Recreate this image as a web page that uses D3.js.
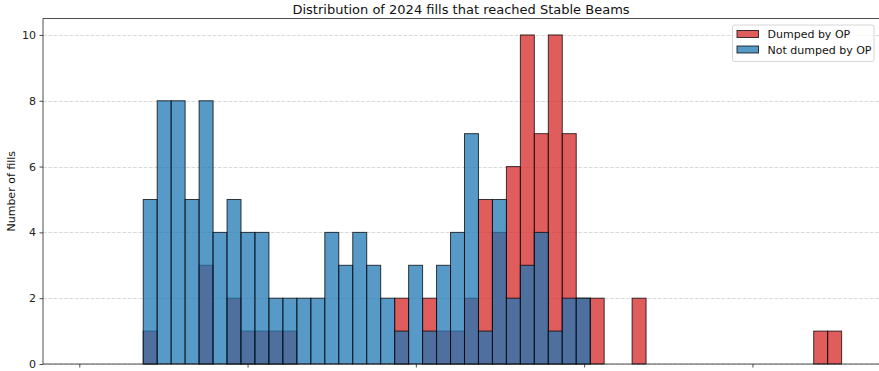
<!DOCTYPE html>
<html>
<head>
<meta charset="utf-8">
<script src="https://cdn.jsdelivr.net/npm/d3@7"></script>
<style>
  html, body { margin: 0; padding: 0; background: #fff; }
  svg { display: block; font-family: "DejaVu Sans", sans-serif; }
</style>
</head>
<body>
<svg id="chart" width="879" height="371"></svg>
<script>
// Histogram of fill durations (hours), 50 equal bins
const binStart = 1.9;
const binWidth = 0.415;
const dumpedByOP = [
  1, 0, 0, 0, 3, 0, 2, 1, 1, 1,
  1, 0, 0, 0, 0, 0, 0, 0, 2, 0,
  2, 1, 1, 2, 5, 4, 6, 10, 7, 10,
  7, 2, 2, 0, 0, 2, 0, 0, 0, 0,
  0, 0, 0, 0, 0, 0, 0, 0, 1, 1
];
const notDumpedByOP = [
  5, 8, 8, 5, 8, 4, 5, 4, 4, 2,
  2, 2, 2, 4, 3, 4, 3, 2, 1, 3,
  1, 3, 4, 7, 1, 5, 2, 3, 4, 1,
  2, 2, 0, 0, 0, 0, 0, 0, 0, 0,
  0, 0, 0, 0, 0, 0, 0, 0, 0, 0
];
const xTicks = [0, 5, 10, 15, 20];
const yTicks = [0, 2, 4, 6, 8, 10];
const seriesNames = ["Dumped by OP", "Not dumped by OP"];
const seriesColors = ["#d62728", "#1f77b4"];

const svg = d3.select("#chart");
const plotLeft = 43, plotTop = 18.5, plotBottom = 364, plotRight = 880;

const x = d3.scaleLinear().domain([-1.078, 23.79]).range([plotLeft, plotRight]);
const y = d3.scaleLinear().domain([0, 10.5]).range([plotBottom, plotTop]);

// horizontal dashed grid
svg.append("g").selectAll("line").data(yTicks).join("line")
  .attr("x1", plotLeft).attr("x2", plotRight)
  .attr("y1", d => Math.round(y(d)) + 0.5).attr("y2", d => Math.round(y(d)) + 0.5)
  .attr("stroke", "#b0b0b0").attr("stroke-opacity", 0.6)
  .attr("stroke-dasharray", "3.7,1.6").attr("stroke-width", 0.8);

// bars: red series first, blue series drawn over it
const bars = svg.append("g");
[dumpedByOP, notDumpedByOP].forEach((counts, s) => {
  const data = counts.map((c, i) => ({ x0: binStart + i * binWidth, x1: binStart + (i + 1) * binWidth, c }))
    .filter(d => d.c > 0);
  bars.append("g").selectAll("rect").data(data).join("rect")
    .attr("x", d => x(d.x0))
    .attr("width", d => x(d.x1) - x(d.x0))
    .attr("y", d => y(d.c))
    .attr("height", d => y(0) - y(d.c))
    .attr("fill", seriesColors[s]).attr("fill-opacity", 0.75)
    .attr("stroke", "#000").attr("stroke-opacity", 0.75).attr("stroke-width", 1);
});

// axes
const yAxis = d3.axisLeft(y).tickValues(yTicks).tickSize(3.5).tickPadding(3.5).tickFormat(d3.format("d"));
const gy = svg.append("g").attr("transform", `translate(${plotLeft},0)`).call(yAxis);
gy.select(".domain").remove();
gy.selectAll("text").attr("font-size", 11).attr("fill", "#222").attr("font-family", "DejaVu Sans, sans-serif");
gy.selectAll("line").attr("stroke", "#222").attr("stroke-width", 0.8);

const xAxis = d3.axisBottom(x).tickValues(xTicks).tickSize(3.5).tickFormat("");
const gx = svg.append("g").attr("transform", `translate(0,${plotBottom})`).call(xAxis);
gx.select(".domain").remove();
gx.selectAll("line").attr("stroke", "#222").attr("stroke-width", 0.8);

// spines
svg.append("line").attr("x1", plotLeft).attr("x2", plotLeft).attr("y1", plotTop).attr("y2", plotBottom)
  .attr("stroke", "#222").attr("stroke-width", 0.8);
svg.append("line").attr("x1", plotLeft).attr("x2", plotRight).attr("y1", plotBottom).attr("y2", plotBottom)
  .attr("stroke", "#222").attr("stroke-width", 0.8);
svg.append("line").attr("x1", plotLeft).attr("x2", plotRight).attr("y1", plotTop).attr("y2", plotTop)
  .attr("stroke", "#222").attr("stroke-width", 0.8);

// title and axis label
svg.append("text").attr("x", (plotLeft + 879) / 2).attr("y", 13.5)
  .attr("text-anchor", "middle").attr("font-size", 13).attr("fill", "#111")
  .text("Distribution of 2024 fills that reached Stable Beams");
svg.append("text")
  .attr("transform", `translate(14.5,${(plotTop + plotBottom) / 2}) rotate(-90)`)
  .attr("text-anchor", "middle").attr("font-size", 11).attr("fill", "#111")
  .text("Number of fills");

// legend
const lg = svg.append("g").attr("transform", "translate(732.5,25)");
lg.append("rect").attr("width", 141.5).attr("height", 36.5).attr("rx", 2)
  .attr("fill", "#fff").attr("fill-opacity", 0.8).attr("stroke", "#ccc").attr("stroke-width", 0.8);
seriesNames.forEach((name, i) => {
  const row = lg.append("g").attr("transform", `translate(0,${5.5 + i * 15.5})`);
  row.append("rect").attr("x", 4.5).attr("width", 21.5).attr("height", 7)
    .attr("fill", seriesColors[i]).attr("fill-opacity", 0.75)
    .attr("stroke", "#000").attr("stroke-opacity", 0.75).attr("stroke-width", 1);
  row.append("text").attr("x", 35).attr("y", 7.8).attr("font-size", 11).attr("fill", "#111")
    .text(name);
});
</script>
</body>
</html>
